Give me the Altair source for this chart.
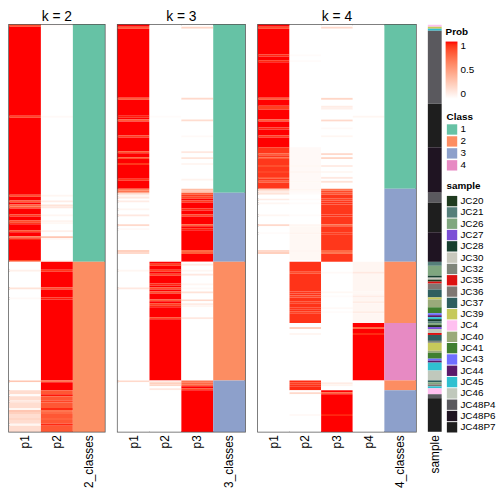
import altair as alt
import pandas as pd

N_ROWS = 206
FONT = "Liberation Sans"

CLASS_LABELS = ["1", "2", "3", "4"]
CLASS_COLORS = ["#66c2a5", "#fc8d62", "#8da0cb", "#e78ac3"]

SAMPLE_NAMES = ["JC20", "JC21", "JC26", "JC27", "JC28", "JC30", "JC32", "JC35", "JC36",
                "JC37", "JC39", "JC4", "JC40", "JC41", "JC43", "JC44", "JC45", "JC46",
                "JC48P4", "JC48P6", "JC48P7"]
SAMPLE_COLORS = ["#1f3b1f", "#557f7a", "#7fa67f", "#7b4fd6", "#173f2f", "#c8c8bd", "#7f857a",
                 "#dd1111", "#7f7772", "#2f5f5f", "#c6c95a", "#ffc0f0", "#9aaa7a", "#407f30",
                 "#6f6fff", "#5a1a6a", "#30c0d0", "#c0c8bc", "#5a595e", "#1f1422", "#1e1e1e"]

PROB_TICKS = [0, 0.5, 1]

# ---- k = 2 ----
K2_COLS = ["p1", "p2"]
K2_RUNS = {"p1": [(120, 1.0), (65, 0.0), (21, 0.18)],
           "p2": [(120, 0.0), (65, 1.0), (21, 0.82)]}
K2_LINE_ROWS = [0, 46, 86, 89, 91, 92, 96, 99, 100, 104, 107, 108, 119, 124, 133, 138, 180, 187, 190, 194, 195, 196, 199, 202]
K2_LINE_P1 = [0.85, 0.88, 0.85, 0.8, 0.78, 0.8, 0.9, 0.85, 0.92, 0.85, 0.7, 0.95, 0.85, 0.08, 0.15, 0.03, 0.3, 0.02, 0.12, 0.05, 0.3, 0.25, 0.22, 0.05]
K2_LINE_P2 = [0.02, 0.03, 0.05, 0.1, 0.15, 0.12, 0.05, 0.06, 0.04, 0.08, 0.3, 0.03, 0.05, 0.92, 0.85, 0.97, 0.7, 0.98, 0.88, 0.95, 0.7, 0.75, 0.78, 0.95]
K2_CLASS_RUNS = [(120, "1"), (86, "2")]

# ---- k = 3 ----
K3_COLS = ["p1", "p2", "p3"]
K3_RUNS = {"p1": [(85, 1.0), (121, 0.0)],
           "p2": [(120, 0.0), (60, 1.0), (26, 0.0)],
           "p3": [(85, 0.0), (35, 1.0), (60, 0.0), (26, 1.0)]}
K3_LINE_ROWS = [1, 37, 46, 48, 56, 64, 67, 70, 78, 83, 84, 85, 86, 87, 89, 93, 96, 101, 103, 114, 115,
                121, 124, 126, 131, 133, 135, 139, 141, 142, 148, 180, 181, 182, 184]
K3_LINE_P1 = [0.8, 0.8, 0.97, 0.8, 0.9, 0.85, 0.85, 0.92, 0.92, 0.65, 0.7, 0.2, 0.05, 0.12, 0.1, 0.05, 0.12, 0.2, 0.03, 0.25, 0.2,
              0, 0.05, 0, 0, 0.12, 0, 0, 0, 0, 0, 0.2, 0, 0, 0]
K3_LINE_P2 = [0, 0, 0.02, 0, 0, 0, 0, 0, 0, 0, 0, 0, 0, 0, 0, 0, 0, 0, 0, 0, 0,
              0.9, 0.9, 0.88, 0.95, 0.85, 0.85, 0.8, 0.9, 0.95, 0.88, 0.1, 0.25, 0.22, 0.12]
K3_LINE_P3 = [0.22, 0.2, 0.0, 0.18, 0.03, 0.12, 0.14, 0.05, 0.06, 0.35, 0.3, 0.8, 0.92, 0.88, 0.9, 0.95, 0.88, 0.8, 0.97, 0.75, 0.8,
              0.1, 0.05, 0.12, 0.05, 0.03, 0.15, 0.2, 0.1, 0.05, 0.12, 0.7, 0.75, 0.78, 0.88]
K3_CLASS_RUNS = [(85, "1"), (35, "3"), (60, "2"), (26, "3")]

# ---- k = 4 ----
K4_COLS = ["p1", "p2", "p3", "p4"]
K4_RUNS = {"p1": [(62, 1.0), (21, 0.92), (123, 0.0)],
           "p2": [(62, 0.0), (21, 0.03), (18, 0.0), (18, 0.04), (1, 0.0), (31, 0.93), (29, 0.0), (5, 0.95), (21, 0.0)],
           "p3": [(83, 0.0), (37, 0.92), (65, 0.0), (21, 1.0)],
           "p4": [(120, 0.0), (31, 0.05), (29, 1.0), (26, 0.0)]}
K4_LINE_ROWS = [1, 15, 18, 37, 41, 42, 46, 48, 52, 56, 65, 67, 71, 74, 77, 79, 83, 84, 85, 88, 90, 96, 101, 105, 114, 115,
                125, 135, 137, 140, 143, 145, 153, 156, 181, 182, 186, 197]
K4_LINE_P1 = [0.85, 0.95, 0.95, 0.8, 0.9, 0.9, 1.0, 0.8, 0.95, 0.9, 0.8, 0.8, 0.85, 0.88, 0.82, 0.8,
              0.25, 0.1, 0.15, 0.1, 0.05, 0.05, 0.2, 0.02, 0.2, 0.25, 0, 0, 0, 0, 0, 0, 0, 0, 0, 0, 0, 0]
K4_LINE_P2 = [0, 0.02, 0.02, 0, 0, 0, 0, 0, 0, 0, 0.03, 0.03, 0.04, 0.05, 0.03, 0.04,
              0.05, 0.03, 0.02, 0.02, 0.02, 0.02, 0.05, 0.06, 0.05, 0.04, 0.85, 0.92, 0.88, 0.9, 0.92, 0.88,
              0.25, 0.05, 0.9, 0.93, 0.2, 0.03]
K4_LINE_P3 = [0.2, 0, 0, 0.22, 0.1, 0.08, 0, 0.2, 0.03, 0.05, 0.2, 0.22, 0.1, 0.04, 0.12, 0.15,
              0.7, 0.87, 0.83, 0.88, 0.93, 0.93, 0.75, 0.9, 0.75, 0.7, 0.03, 0.04, 0.02, 0, 0.03, 0.02,
              0, 0, 0.1, 0.06, 0.8, 0.97]
K4_LINE_P4 = [0, 0, 0, 0, 0, 0, 0.05, 0, 0, 0, 0, 0, 0, 0, 0, 0,
              0, 0, 0, 0, 0, 0, 0, 0, 0, 0, 0.12, 0.04, 0.1, 0.1, 0.05, 0.1,
              0.75, 0.95, 0, 0, 0, 0]
K4_CLASS_RUNS = [(83, "1"), (37, "3"), (31, "2"), (29, "4"), (5, "2"), (21, "3")]

# ---- sample annotation ----
SAMPLE_RUNS = [(1, "JC4"), (1, "JC39"), (1, "JC45"), (37, "JC48P4"), (22, "JC48P7"), (23, "JC48P6"),
               (5, "JC48P4"), (15, "JC48P7"), (15, "JC48P6"),
               (2, "JC21"), (5, "JC26"), (1, "JC28"), (1, "JC30"), (1, "JC20"), (1, "JC35"), (3, "JC36"),
               (4, "JC37"), (1, "JC39"), (4, "JC40"), (3, "JC41"), (1, "JC43"), (1, "JC44"), (1, "JC45"),
               (1, "JC28"), (1, "JC21"), (1, "JC26"), (1, "JC20"), (1, "JC27"), (2, "JC46"), (1, "JC35"),
               (3, "JC37"), (1, "JC32"), (4, "JC39"), (1, "JC40"), (3, "JC41"), (1, "JC43"), (1, "JC44"),
               (4, "JC45"), (5, "JC46"), (1, "JC37"), (1, "JC26"), (1, "JC36"), (1, "JC45"), (3, "JC4"),
               (2, "JC48P4"), (17, "JC48P7")]


def expand(runs):
    out = []
    for n, v in runs:
        out += [v] * n
    return out


def segments(values):
    segs, start = [], 0
    for i in range(1, len(values) + 1):
        if i == len(values) or values[i] != values[start]:
            segs.append((start, i, values[start]))
            start = i
    return segs


PROB_SCALE = alt.Scale(domain=[0, 1], range=["#ffffff", "#ff0000"], interpolate="lab")
CLASS_SCALE = alt.Scale(domain=CLASS_LABELS, range=CLASS_COLORS)
SAMPLE_SCALE = alt.Scale(domain=SAMPLE_NAMES, range=SAMPLE_COLORS)

# legend positions are relative to the sample column's plot origin
PROB_LEGEND = alt.Legend(title="Prob", orient="none", legendX=18, legendY=2, direction="vertical",
                         values=PROB_TICKS, format="~g", gradientLength=58, gradientThickness=12,
                         labelOffset=3, titlePadding=5)
CLASS_LEGEND = alt.Legend(title="Class", orient="none", legendX=19, legendY=88.5, direction="vertical",
                          symbolType="square", symbolSize=110, rowPadding=1.1, labelOffset=3,
                          titlePadding=2, symbolStrokeWidth=0)
SAMPLE_LEGEND = alt.Legend(title="sample", orient="none", legendX=19, legendY=158, direction="vertical",
                           symbolType="square", symbolSize=110, rowPadding=0.45, labelOffset=3,
                           titlePadding=5, symbolStrokeWidth=0)

AXIS = alt.Axis(labelAngle=270, labelAlign="right", labelBaseline="middle", ticks=False, domain=False,
                labelPadding=3, labelFontSize=12, labelFont=FONT, labelColor="black", title=None)
Y_ENC = alt.Y("r0:Q", scale=alt.Scale(domain=[0, N_ROWS], reverse=True, nice=False, zero=False), axis=None)


def panel(k, cols, runs, line_rows, line_vals, class_runs, width):
    heat = []
    for j, c in enumerate(cols):
        vals = expand(runs[c])
        for r, v in zip(line_rows, line_vals[j]):
            vals[r] = v
        for s, e, v in segments(vals):
            heat.append({"col": c, "r0": s, "r1": e, "prob": v})
    cname = f"{k}_classes"
    cls = [{"col": cname, "r0": s, "r1": e, "cls": v} for s, e, v in segments(expand(class_runs))]
    x = alt.X("col:N", scale=alt.Scale(domain=cols + [cname], paddingInner=0, paddingOuter=0), axis=AXIS)
    heat_layer = alt.Chart(pd.DataFrame(heat)).mark_rect().encode(
        x=x, y=Y_ENC, y2="r1:Q", fill=alt.Fill("prob:Q", scale=PROB_SCALE, legend=None))
    cls_layer = alt.Chart(pd.DataFrame(cls)).mark_rect().encode(
        x=x, y=Y_ENC, y2="r1:Q", color=alt.Color("cls:N", scale=CLASS_SCALE, legend=None))
    return alt.layer(heat_layer, cls_layer).properties(
        width=width, height=412,
        title=alt.TitleParams(f"k = {k}", fontSize=14, fontWeight="normal", font=FONT, offset=1,
                              anchor="middle", color="black"))


p2 = panel(2, K2_COLS, K2_RUNS, K2_LINE_ROWS, [K2_LINE_P1, K2_LINE_P2], K2_CLASS_RUNS, 97)
p3 = panel(3, K3_COLS, K3_RUNS, K3_LINE_ROWS, [K3_LINE_P1, K3_LINE_P2, K3_LINE_P3], K3_CLASS_RUNS, 129)
p4 = panel(4, K4_COLS, K4_RUNS, K4_LINE_ROWS, [K4_LINE_P1, K4_LINE_P2, K4_LINE_P3, K4_LINE_P4], K4_CLASS_RUNS, 160)

samp = pd.DataFrame([{"lab": "sample", "r0": s, "r1": e, "sample": v}
                     for s, e, v in segments(expand(SAMPLE_RUNS))])
SX = alt.X("lab:N", scale=alt.Scale(domain=["sample"], paddingInner=0, paddingOuter=0), axis=AXIS)
samp_layer = alt.Chart(samp).mark_rect().encode(
    x=SX, y=Y_ENC, y2="r1:Q",
    color=alt.Color("sample:N", scale=SAMPLE_SCALE, legend=SAMPLE_LEGEND))
# zero-height helper marks that carry the Class and Prob legends
cls_key = pd.DataFrame({"lab": "sample", "r0": 0, "r1": 0, "cls": CLASS_LABELS})
cls_key_layer = alt.Chart(cls_key).mark_rect().encode(
    x=SX, y=Y_ENC, y2="r1:Q",
    color=alt.Color("cls:N", scale=CLASS_SCALE, legend=CLASS_LEGEND))
prob_key = pd.DataFrame({"lab": "sample", "r0": 0, "r1": 0, "prob": PROB_TICKS})
prob_key_layer = alt.Chart(prob_key).mark_rect().encode(
    x=SX, y=Y_ENC, y2="r1:Q",
    fill=alt.Fill("prob:Q", scale=PROB_SCALE, legend=PROB_LEGEND))
sample_chart = alt.layer(samp_layer, cls_key_layer, prob_key_layer).resolve_scale(
    color="independent").properties(width=14, height=412, view=alt.ViewBackground(strokeWidth=0))

chart = alt.hconcat(p2, p3, p4, sample_chart, spacing=11).resolve_scale(
    x="independent", fill="independent", color="independent"
).properties(padding={"left": 0, "top": -2, "right": 0, "bottom": 0}).configure_view(
    stroke="#555555", strokeWidth=1.5
).configure_legend(
    titleFont=FONT, labelFont=FONT, titleFontSize=10, labelFontSize=10, titleFontWeight="bold",
    titleColor="black", labelColor="black", padding=0
)

chart.save("out.html", embed_options={"renderer": "svg", "actions": False})
